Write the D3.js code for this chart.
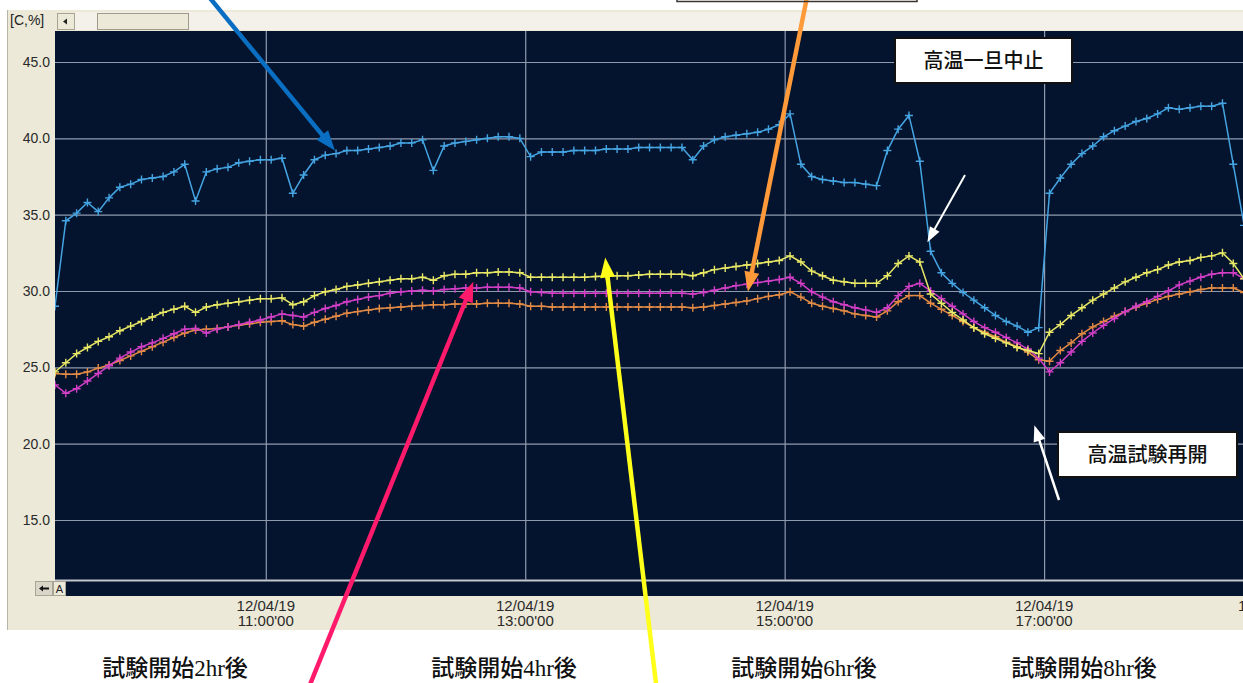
<!DOCTYPE html>
<html>
<head>
<meta charset="utf-8">
<script src="https://cdn.jsdelivr.net/npm/d3@7"></script>
<style>
  body { margin: 0; background: #fff; }
  svg { display: block; }
</style>
</head>
<body>
<div id="container"></div>
<script>
/* CONSTANTS AND GLOBALS */
const width = 1243, height = 683;
const plot = { left: 55, right: 1243, top: 31, bottom: 580, strip: 596 };

/* DATA */
// samples every 5 minutes, first one at 09:22:30 on 12/04/19
const startTime = new Date(2012, 3, 19, 9, 22, 30);
const endTime = new Date(2012, 3, 19, 18, 32, 0);
const stepMinutes = 5;

const yTicks = [15, 20, 25, 30, 35, 40, 45];
const xTickTimes = [
  new Date(2012, 3, 19, 11), new Date(2012, 3, 19, 13),
  new Date(2012, 3, 19, 15), new Date(2012, 3, 19, 17)
];
const xTickDate = "12/04/19";

const blueVals = [29.0,34.6,35.1,35.8,35.2,36.1,36.8,37.0,37.3,37.4,
  37.5,37.8,38.3,35.9,37.8,38.0,38.1,38.4,38.5,38.6,
  38.6,38.7,36.4,37.6,38.6,38.9,39.0,39.2,39.2,39.3,
  39.4,39.5,39.7,39.7,39.9,37.9,39.5,39.7,39.8,39.9,
  40.0,40.1,40.1,40.0,38.8,39.1,39.1,39.1,39.2,39.2,
  39.2,39.3,39.3,39.3,39.4,39.4,39.4,39.4,39.4,38.6,
  39.5,39.9,40.1,40.2,40.3,40.4,40.6,40.9,41.6,38.3,
  37.5,37.3,37.2,37.1,37.1,37.0,36.9,39.2,40.6,41.5,
  38.5,32.6,31.2,30.5,29.9,29.4,28.9,28.4,28.0,27.7,
  27.3,27.6,36.4,37.4,38.3,39.0,39.5,40.1,40.5,40.8,
  41.1,41.3,41.6,42.0,41.9,42.0,42.1,42.1,42.3,38.3,
  34.3];

const yellowVals = [24.7,25.3,25.9,26.3,26.7,27.0,27.4,27.7,28.0,28.3,
  28.6,28.8,29.0,28.6,28.95,29.1,29.2,29.3,29.4,29.5,
  29.5,29.55,29.1,29.3,29.7,29.95,30.1,30.3,30.4,30.5,
  30.6,30.7,30.8,30.8,30.9,30.7,31.0,31.1,31.1,31.2,
  31.2,31.25,31.25,31.2,30.9,30.9,30.9,30.9,30.9,30.9,
  30.95,31.0,31.0,31.0,31.05,31.1,31.1,31.1,31.1,31.0,
  31.2,31.4,31.5,31.6,31.7,31.8,31.9,32.0,32.3,31.9,
  31.3,31.0,30.7,30.6,30.5,30.5,30.5,31.0,31.8,32.3,
  31.9,29.8,29.2,28.6,28.1,27.6,27.2,26.9,26.6,26.3,
  26.1,25.9,27.3,27.8,28.4,28.9,29.4,29.8,30.2,30.6,
  30.9,31.2,31.4,31.7,31.9,32.0,32.2,32.3,32.5,31.8,
  30.8];

const magentaVals = [23.85,23.3,23.6,24.1,24.6,25.1,25.6,26.0,26.35,26.6,
  26.9,27.2,27.5,27.55,27.25,27.5,27.65,27.8,27.95,28.1,
  28.3,28.5,28.4,28.3,28.6,28.85,29.05,29.3,29.45,29.6,
  29.7,29.85,29.95,30.0,30.05,30.0,30.1,30.15,30.2,30.2,
  30.25,30.25,30.25,30.2,29.95,29.9,29.85,29.85,29.85,29.85,
  29.85,29.85,29.85,29.85,29.85,29.85,29.85,29.85,29.85,29.8,
  29.9,30.05,30.2,30.35,30.45,30.55,30.65,30.75,30.9,30.5,
  29.95,29.6,29.3,29.1,28.9,28.75,28.6,28.9,29.7,30.3,
  30.5,30.0,29.5,29.0,28.5,28.0,27.6,27.3,26.95,26.6,
  26.2,25.6,24.7,25.3,26.0,26.7,27.25,27.75,28.2,28.65,
  29.0,29.3,29.65,30.0,30.4,30.65,30.9,31.1,31.2,31.2,
  30.8];

const orangeVals = [24.6,24.55,24.55,24.7,24.95,25.15,25.45,25.75,26.05,26.35,
  26.65,26.95,27.25,27.45,27.5,27.55,27.65,27.75,27.85,27.95,
  28.0,28.05,27.8,27.7,27.95,28.15,28.35,28.55,28.65,28.75,
  28.85,28.9,28.95,29.0,29.05,29.1,29.1,29.15,29.15,29.15,
  29.2,29.2,29.2,29.15,29.0,29.0,28.95,28.95,28.95,28.95,
  28.95,28.95,28.95,28.95,28.95,28.95,28.95,28.95,28.95,28.9,
  28.95,29.05,29.15,29.25,29.35,29.5,29.65,29.75,29.95,29.6,
  29.2,29.0,28.85,28.7,28.5,28.4,28.3,28.7,29.3,29.7,
  29.7,29.2,28.8,28.4,28.0,27.6,27.3,27.0,26.65,26.35,
  26.0,25.5,25.4,26.1,26.6,27.2,27.65,28.0,28.35,28.65,
  28.95,29.2,29.45,29.65,29.8,29.95,30.1,30.2,30.2,30.2,
  29.9];

// drawing order: first drawn is underneath
const seriesList = [
  { name: "orange", values: orangeVals, color: "#e38a45" },
  { name: "magenta", values: magentaVals, color: "#d23fc6" },
  { name: "yellow", values: yellowVals, color: "#e9e866" },
  { name: "blue", values: blueVals, color: "#45a4e2" }
];

const bottomLabels = ["試験開始2hr後", "試験開始4hr後", "試験開始6hr後", "試験開始8hr後"];
const bottomLabelX = [175, 504, 804, 1084];

/* SCALES */
const times = blueVals.map((d, i) => new Date(startTime.getTime() + i * stepMinutes * 60000));

const xScale = d3.scaleTime()
  .domain([startTime, endTime])
  .range([plot.left, plot.right]);

const yScale = d3.scaleLinear()
  .domain([15, 45])
  .range([520, 62]);

/* CREATE SVG ELEMENT */
const svg = d3.select("#container")
  .append("svg")
  .attr("width", width)
  .attr("height", height)
  .style("font-family", "'Liberation Sans', Arial, sans-serif");

// window panel
svg.append("rect")
  .attr("x", 7).attr("y", 10)
  .attr("width", width - 7).attr("height", 620)
  .attr("fill", "#ece9d8");
svg.append("line")
  .attr("x1", 7.5).attr("x2", 7.5).attr("y1", 10).attr("y2", 630)
  .attr("stroke", "#b8b5a6");

// top scroll strip
svg.append("rect")
  .attr("x", 75).attr("y", 12)
  .attr("width", width - 75).attr("height", 18)
  .attr("fill", "#f3f1ea");
svg.append("text")
  .attr("x", 10).attr("y", 25)
  .attr("font-size", 14).attr("fill", "#222")
  .text("[C,%]");
svg.append("rect")
  .attr("x", 57.5).attr("y", 13.5).attr("width", 17).attr("height", 16)
  .attr("fill", "#ece9d8").attr("stroke", "#a8a596");
svg.append("path")
  .attr("d", "M63,21.5 L67,18.5 L67,24.5 Z")
  .attr("fill", "#222");
svg.append("rect")
  .attr("x", 97.5).attr("y", 13.5).attr("width", 91).attr("height", 16)
  .attr("fill", "#ece9d8").attr("stroke", "#9e9b8c");

// plot background
svg.append("rect")
  .attr("x", plot.left).attr("y", plot.top)
  .attr("width", plot.right - plot.left).attr("height", plot.strip - plot.top)
  .attr("fill", "#04142e");

// bottom strip line + buttons
svg.append("line")
  .attr("x1", plot.left).attr("x2", plot.right)
  .attr("y1", plot.bottom + 0.5).attr("y2", plot.bottom + 0.5)
  .attr("stroke", "#c3c6cc").attr("stroke-width", 2);
svg.append("rect")
  .attr("x", 35.5).attr("y", 581.5).attr("width", 17).attr("height", 14)
  .attr("fill", "#d9d6c8").attr("stroke", "#a8a596");
svg.append("path")
  .attr("d", "M39,588.5 L43,585.5 L43,587.5 L49,587.5 L49,589.5 L43,589.5 L43,591.5 Z")
  .attr("fill", "#111");
svg.append("rect")
  .attr("x", 53.5).attr("y", 581.5).attr("width", 12).attr("height", 14)
  .attr("fill", "#ece9d8").attr("stroke", "#a8a596");
svg.append("text")
  .attr("x", 59.5).attr("y", 593)
  .attr("text-anchor", "middle").attr("font-size", 11).attr("fill", "#222")
  .text("A");

/* GRIDLINES */
const gridColor = "#8f9aae";

svg.append("g")
  .attr("transform", `translate(${plot.left},0)`)
  .call(d3.axisLeft(yScale).tickValues(yTicks).tickSize(-(plot.right - plot.left)).tickFormat(""))
  .call(g => g.select(".domain").remove())
  .call(g => g.selectAll("line").attr("stroke", gridColor).attr("stroke-width", 1.2));

svg.append("g")
  .attr("transform", `translate(0,${plot.bottom})`)
  .call(d3.axisBottom(xScale).tickValues(xTickTimes).tickSize(-(plot.bottom - plot.top)).tickFormat(""))
  .call(g => g.select(".domain").remove())
  .call(g => g.selectAll("line").attr("stroke", gridColor).attr("stroke-width", 1.2));

/* AXES LABELS */
svg.append("g")
  .attr("transform", `translate(${plot.left},0)`)
  .call(d3.axisLeft(yScale).tickValues(yTicks).tickSize(0).tickPadding(5).tickFormat(d3.format(".1f")))
  .call(g => g.select(".domain").remove())
  .call(g => g.selectAll("text")
    .attr("font-size", 14).attr("fill", "#2a2a2a")
    .attr("font-family", "'Liberation Sans', Arial, sans-serif"));

const timeFmt = d3.timeFormat("%H:%M'%S");
const xLab = svg.append("g");
xLab.selectAll("text")
  .data(xTickTimes)
  .join("text")
  .attr("x", d => xScale(d))
  .attr("text-anchor", "middle")
  .attr("font-size", 15).attr("fill", "#2a2a2a")
  .each(function (d) {
    const t = d3.select(this);
    t.append("tspan").attr("x", xScale(d)).attr("y", 611).text(xTickDate);
    t.append("tspan").attr("x", xScale(d)).attr("y", 626).text(timeFmt(d));
  });
// label of the end of the window, cut by the frame as in the source
xLab.append("text")
  .attr("x", xScale(endTime) - 5).attr("y", 611)
  .attr("font-size", 15).attr("fill", "#2a2a2a")
  .text(xTickDate);

/* LINES */
svg.append("clipPath").attr("id", "plotClip")
  .append("rect")
  .attr("x", plot.left).attr("y", plot.top)
  .attr("width", plot.right - plot.left).attr("height", plot.bottom - plot.top);

const lineGen = d3.line()
  .x((d, i) => xScale(times[i]))
  .y(d => yScale(d));

const lines = svg.append("g").attr("clip-path", "url(#plotClip)");

seriesList.forEach(s => {
  const g = lines.append("g").attr("class", "series-" + s.name);
  g.append("path")
    .attr("d", lineGen(s.values))
    .attr("fill", "none")
    .attr("stroke", s.color)
    .attr("stroke-width", 1.5);
  g.selectAll("path.mk")
    .data(s.values)
    .join("path")
    .attr("class", "mk")
    .attr("d", "M-4,0H4M0,-4V4")
    .attr("transform", (d, i) => `translate(${xScale(times[i])},${yScale(d)})`)
    .attr("stroke", s.color)
    .attr("stroke-width", 1.4);
});

/* ANNOTATIONS */
// arrow tips point at the data, tails run off to the picture edges
const at = (h, m) => new Date(2012, 3, 19, h, m);
const arrows = [
  { color: "#0a6fc2", w: 4.5, head: [20, 15], tail: [205, -8], tip: [at(11, 32), 39.2] },
  { color: "#ff9a3a", w: 4.5, head: [20, 15], tail: [808, -8], tip: [at(14, 43), 29.95] },
  { color: "#ff1a6b", w: 4.5, head: [20, 15], tail: [307, 692], tip: [at(12, 36), 30.6] },
  { color: "#ffff1a", w: 4.5, head: [20, 15], tail: [657, 692], tip: [at(13, 37), 32.2] },
  { color: "#ffffff", w: 2, head: [15, 11], tail: [965, 175], tip: [at(16, 6), 33.2] },
  { color: "#ffffff", w: 2.5, head: [16, 12], tail: [1059, 500], tip: [new Date(2012, 3, 19, 16, 55, 30), 21.2] }
];

const arrowG = svg.append("g");
arrows.forEach(a => {
  const [x0, y0] = a.tail;
  const x1 = xScale(a.tip[0]), y1 = yScale(a.tip[1]);
  const len = Math.hypot(x1 - x0, y1 - y0);
  const ux = (x1 - x0) / len, uy = (y1 - y0) / len;
  const bx = x1 - ux * a.head[0], by = y1 - uy * a.head[0];
  const px = -uy * a.head[1] / 2, py = ux * a.head[1] / 2;
  arrowG.append("line")
    .attr("x1", x0).attr("y1", y0)
    .attr("x2", bx + ux * 2).attr("y2", by + uy * 2)
    .attr("stroke", a.color).attr("stroke-width", a.w);
  arrowG.append("path")
    .attr("d", `M${x1},${y1}L${bx + px},${by + py}L${bx - px},${by - py}Z`)
    .attr("fill", a.color);
});

// bottom edge of a box above the picture
svg.append("rect")
  .attr("x", 677).attr("y", -20).attr("width", 240).attr("height", 21.5)
  .attr("fill", "none").attr("stroke", "#3a3530").attr("stroke-width", 1.5);

const boxes = [
  { text: "高温一旦中止", x: 895, y: 38, w: 177, h: 45 },
  { text: "高温試験再開", x: 1058, y: 432, w: 179, h: 45 }
];
const boxG = svg.append("g")
  .selectAll("g")
  .data(boxes)
  .join("g");
boxG.append("rect")
  .attr("x", d => d.x).attr("y", d => d.y)
  .attr("width", d => d.w).attr("height", d => d.h)
  .attr("fill", "#fff").attr("stroke", "#111").attr("stroke-width", 2);
boxG.append("text")
  .attr("x", d => d.x + d.w / 2).attr("y", d => d.y + d.h / 2 + 7)
  .attr("text-anchor", "middle")
  .attr("font-family", "'Noto Sans CJK JP', sans-serif")
  .attr("font-weight", 500)
  .attr("font-size", 20).attr("fill", "#111")
  .text(d => d.text);

// labels under the chart
svg.append("g")
  .selectAll("text")
  .data(bottomLabels)
  .join("text")
  .attr("x", (d, i) => bottomLabelX[i])
  .attr("y", 676)
  .attr("text-anchor", "middle")
  .attr("font-family", "'Liberation Serif', 'Noto Sans CJK JP', serif")
  .attr("font-weight", 500)
  .attr("font-size", 23).attr("fill", "#111")
  .text(d => d);
</script>
</body>
</html>
